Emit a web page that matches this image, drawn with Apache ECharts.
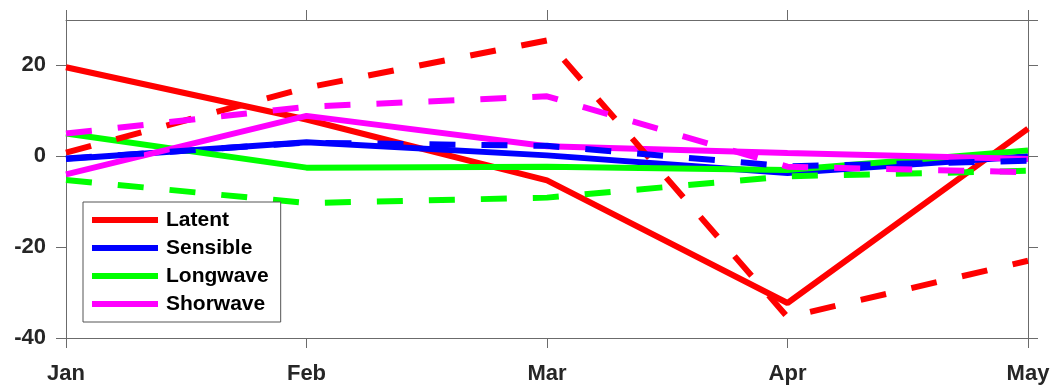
<!DOCTYPE html>
<html>
<head>
<meta charset="utf-8">
<script src="https://cdn.jsdelivr.net/npm/echarts@6/dist/echarts.min.js"></script>
<style>
  html, body { margin: 0; padding: 0; background: #fff; }
  #chart { width: 1054px; height: 388px; }
</style>
</head>
<body>
<div id="chart"></div>
<script>
const months = ['Jan', 'Feb', 'Mar', 'Apr', 'May'];
const names = ['Latent', 'Sensible', 'Longwave', 'Shorwave'];
const colors = ['#ff0000', '#0000ff', '#00ff00', '#ff00ff'];

// solid lines
const latent = [19.6, 8.1, -5.3, -32.3, 6.1];
const sensible = [-0.6, 3.1, 0.2, -3.7, 0.0];
const longwave = [5.0, -2.5, -2.3, -3.0, 1.3];
const shorwave = [-4.0, 8.9, 2.2, 0.7, -0.6];

// dashed lines
const latentDash = [0.8, 15.1, 25.5, -35.4, -23.0];
const sensibleDash = [-0.5, 3.0, 2.3, -2.2, -1.0];
const longwaveDash = [-5.2, -10.3, -9.1, -4.4, -3.2];
const shorwaveDash = [5.0, 10.9, 13.2, -2.3, -3.5];

const solid = [latent, sensible, longwave, shorwave];
const dashed = [latentDash, sensibleDash, longwaveDash, shorwaveDash];

const axisColor = '#6b6b6b';
const labelStyle = {
  fontFamily: 'Liberation Sans',
  fontWeight: 'bold',
  fontSize: 22,
  color: '#262626'
};

const series = [];
names.forEach((name, i) => {
  series.push({
    name: name,
    type: 'line',
    data: solid[i],
    symbol: 'none',
    itemStyle: { color: colors[i] },
    lineStyle: { color: colors[i], width: 6 }
  });
});
names.forEach((name, i) => {
  series.push({
    name: name + ' (dashed)',
    type: 'line',
    data: dashed[i],
    symbol: 'none',
    itemStyle: { color: colors[i] },
    lineStyle: { color: colors[i], width: 6, type: [26, 26] }
  });
});

const frameAxis = {
  axisLine: { show: true, onZero: false, lineStyle: { color: axisColor, width: 1 } },
  axisTick: { show: true, inside: false, length: 10, lineStyle: { color: axisColor } },
  splitLine: { show: false }
};

const chart = echarts.init(document.getElementById('chart'));
chart.setOption({
  animation: false,
  grid: { left: 66, right: 26, top: 20, bottom: 50 },
  legend: {
    data: names,
    orient: 'vertical',
    left: 83,
    top: 202,
    icon: 'rect',
    itemWidth: 66,
    itemHeight: 6,
    itemGap: 6,
    padding: [7, 12, 7, 9],
    backgroundColor: '#fff',
    borderColor: '#555',
    borderWidth: 1,
    borderRadius: 0,
    textStyle: {
      fontFamily: 'Liberation Sans',
      fontWeight: 'bold',
      fontSize: 21,
      lineHeight: 22,
      color: '#000',
      padding: [0, 0, 0, 3]
    }
  },
  xAxis: [
    Object.assign({
      type: 'category',
      data: months,
      boundaryGap: false,
      position: 'bottom',
      axisLabel: Object.assign({ margin: 25 }, labelStyle)
    }, frameAxis),
    Object.assign({
      type: 'category',
      data: months,
      boundaryGap: false,
      position: 'top',
      axisLabel: { show: false }
    }, frameAxis)
  ],
  yAxis: [
    Object.assign({
      type: 'value',
      min: -40,
      max: 30,
      interval: 20,
      position: 'left',
      axisLabel: Object.assign({ margin: 20, showMaxLabel: false }, labelStyle)
    }, frameAxis),
    Object.assign({
      type: 'value',
      min: -40,
      max: 30,
      interval: 20,
      position: 'right',
      axisLabel: { show: false }
    }, frameAxis)
  ],
  series: series
});
</script>
</body>
</html>
